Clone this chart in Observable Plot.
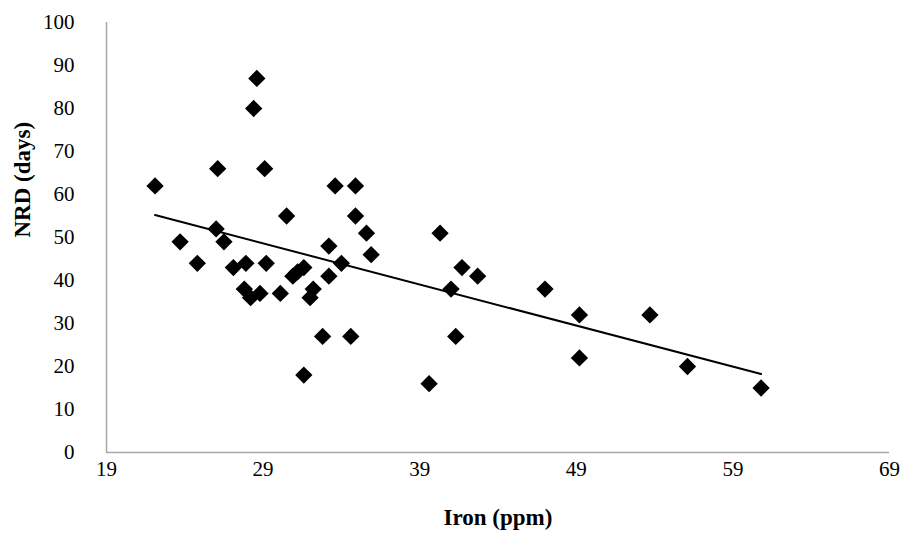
<!DOCTYPE html>
<html>
<head>
<meta charset="utf-8">
<script src="https://cdn.jsdelivr.net/npm/d3@7"></script>
<script src="https://cdn.jsdelivr.net/npm/@observablehq/plot@0.6"></script>
<style>
  html, body { margin: 0; padding: 0; background: #fff; }
  #chart svg { display: block; }
</style>
</head>
<body>
<div id="chart"></div>
<script>
const iron = [22.1, 23.7, 24.8, 26.1, 26.0, 26.5, 27.1, 27.9, 27.8, 28.2, 28.4, 28.6, 28.8, 29.1, 29.2,
  30.1, 30.5, 30.9, 31.2, 31.6, 31.6, 32.0, 32.2, 32.8, 33.2, 33.2, 33.6, 34.0, 34.6, 34.9, 34.9,
  35.6, 35.9, 39.6, 40.3, 41.0, 41.3, 41.7, 42.7, 47.0, 49.2, 49.2, 53.7, 56.1, 60.8];
const nrd = [62, 49, 44, 66, 52, 49, 43, 44, 38, 36, 80, 87, 37, 66, 44,
  37, 55, 41, 42, 43, 18, 36, 38, 27, 48, 41, 62, 44, 27, 62, 55,
  51, 46, 16, 51, 38, 27, 43, 41, 38, 32, 22, 32, 20, 15];
const xTicks = [19, 29, 39, 49, 59, 69];
const yTicks = [0, 10, 20, 30, 40, 50, 60, 70, 80, 90, 100];
const xTitle = "Iron (ppm)";
const yTitle = "NRD (days)";

const data = iron.map((x, i) => ({x, y: nrd[i]}));

const chart = Plot.plot({
  width: 904,
  height: 540,
  marginLeft: 106,
  marginRight: 15,
  marginTop: 22,
  marginBottom: 88,
  style: {fontFamily: "'Liberation Serif', 'Times New Roman', serif", fontSize: "21px", color: "#000", background: "#fff"},
  x: {domain: [19, 69], ticks: xTicks},
  y: {domain: [0, 100], ticks: yTicks},
  marks: [
    Plot.axisX({ticks: xTicks, tickSize: 0, tickPadding: 9, label: null, fontSize: 21}),
    Plot.axisY({ticks: yTicks, tickSize: 0, tickPadding: 32, label: null, fontSize: 21}),
    Plot.ruleY([0], {stroke: "#a6a6a6", strokeWidth: 1.5}),
    Plot.ruleX([19], {stroke: "#a6a6a6", strokeWidth: 1.5}),
    Plot.linearRegressionY(data, {x: "x", y: "y", stroke: "black", strokeWidth: 2, ci: 0}),
    Plot.dot(data, {x: "x", y: "y", symbol: "diamond2", r: 7.8, fill: "black", stroke: "none"}),
    Plot.text([xTitle], {frameAnchor: "bottom", dy: 72, text: d => d, fontWeight: "bold", fontSize: 23}),
    Plot.text([yTitle], {frameAnchor: "left", dx: -84, rotate: -90, text: d => d, fontWeight: "bold", fontSize: 23})
  ]
});
document.getElementById("chart").appendChild(chart);
</script>
</body>
</html>
